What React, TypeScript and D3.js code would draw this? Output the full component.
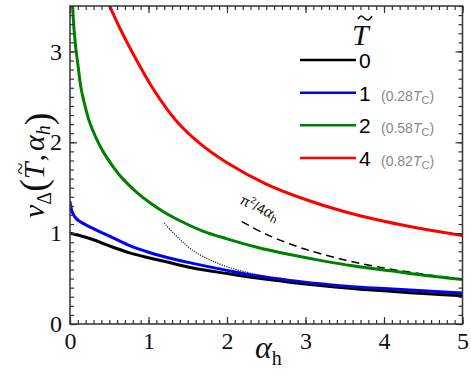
import React, { useEffect, useRef } from 'react';
import * as d3 from 'd3';

// values, [alpha_h, nu]
const curveT0: [number, number][] = [
  [0, 1.0], [0.1, 0.98], [0.29, 0.93], [0.5, 0.86], [0.77, 0.78], [1.0, 0.73], [1.2, 0.69],
  [1.55, 0.62], [2.0, 0.555], [2.38, 0.505], [2.8, 0.46], [3.22, 0.42], [3.6, 0.39],
  [4.0, 0.365], [4.5, 0.335], [5.0, 0.31],
];
const curveT1: [number, number][] = [
  [0, 1.35], [0.008, 1.3], [0.034, 1.22], [0.08, 1.16], [0.16, 1.11], [0.37, 1.02], [0.57, 0.94],
  [0.77, 0.86], [1.0, 0.79], [1.2, 0.74], [1.55, 0.67], [2.0, 0.59], [2.38, 0.53],
  [2.8, 0.48], [3.22, 0.44], [3.6, 0.41], [4.0, 0.39], [4.5, 0.365], [5.0, 0.34],
];
const curveT2: [number, number][] = [
  [0.02, 3.83], [0.034, 3.49], [0.05, 3.26], [0.076, 3.02], [0.1, 2.86], [0.14, 2.6], [0.2, 2.37],
  [0.25, 2.22], [0.33, 2.05], [0.42, 1.9], [0.55, 1.73], [0.67, 1.6], [0.85, 1.45], [1.01, 1.34],
  [1.2, 1.23], [1.44, 1.12], [1.7, 1.02], [1.99, 0.94], [2.38, 0.845], [2.8, 0.765], [3.22, 0.695],
  [3.6, 0.64], [4.08, 0.585], [4.5, 0.537], [5.0, 0.49],
];
const curveT4: [number, number][] = [
  [0.42, 3.66], [0.5, 3.51], [0.65, 3.23], [0.8, 2.98], [1.05, 2.6], [1.35, 2.24], [1.65, 1.99],
  [1.99, 1.78], [2.5, 1.54], [3.0, 1.37], [3.5, 1.235], [4.0, 1.13], [4.5, 1.045], [5.0, 0.975],
];
// dashed asymptote pi^2/4alpha_h and the dotted large-alpha curve
const asymptote: [number, number][] = [
  [2.19, 1.127], [2.5, 0.987], [3.0, 0.822], [3.5, 0.705], [4.0, 0.617], [4.5, 0.548], [4.84, 0.51],
];
const dotted: [number, number][] = [
  [1.2, 1.11], [1.4, 0.93], [1.6, 0.79], [1.8, 0.7], [2.0, 0.63], [2.25, 0.57], [2.5, 0.52],
  [2.75, 0.485], [3.0, 0.455], [3.5, 0.41], [4.0, 0.377], [4.5, 0.348], [5.0, 0.323],
];

const tValues = ['0', '1', '2', '4'];
const tcValues = ['', '0.28', '0.58', '0.82'];
const colors = ['#000000', '#0000ff', '#008000', '#ff0000'];
const curves = [curveT0, curveT1, curveT2, curveT4];

const W = 471;
const H = 373;
const serif = 'Liberation Serif';
const sans = 'Liberation Sans';

export default function App() {
  const svgRef = useRef<SVGSVGElement | null>(null);

  useEffect(() => {
    if (!svgRef.current) return;
    const svg = d3.select(svgRef.current);
    svg.selectAll('*').remove();

    const left = 70, right = 462.5, top = 6, bottom = 324;
    const x = d3.scaleLinear().domain([0, 5]).range([left, right]);
    const y = d3.scaleLinear().domain([0, 3.5]).range([bottom, top]);

    svg.append('defs').append('clipPath').attr('id', 'plot')
      .append('rect').attr('x', left).attr('y', top)
      .attr('width', right - left).attr('height', bottom - top);

    const line = d3.line<[number, number]>()
      .x(d => x(d[0])).y(d => y(d[1]))
      .curve(d3.curveCatmullRom.alpha(0.5));

    const g = svg.append('g').attr('clip-path', 'url(#plot)');

    g.append('path').datum(asymptote)
      .attr('d', line).attr('fill', 'none').attr('stroke', '#000')
      .attr('stroke-width', 1.5).attr('stroke-dasharray', '8,5');

    curves.forEach((c, i) => {
      g.append('path').datum(c)
        .attr('d', line).attr('fill', 'none')
        .attr('stroke', colors[i]).attr('stroke-width', 3);
    });

    g.append('path').datum(dotted)
      .attr('d', line).attr('fill', 'none').attr('stroke', '#222')
      .attr('stroke-width', 1.2).attr('stroke-dasharray', '1.2,1.2');

    // axes: ticks point inward on all four sides
    const minorX = d3.range(0, 5.001, 0.1);
    const minorY = d3.range(0, 3.501, 0.1);
    const majorX = d3.range(0, 6, 1);
    const majorY = d3.range(0, 4, 1);

    const drawAxis = (axis: any, transform: string, labels: boolean) => {
      const a = svg.append('g').attr('transform', transform).call(axis);
      a.attr('font-family', null).attr('font-size', null);
      a.select('.domain').remove();
      a.selectAll('line').attr('stroke', '#333').attr('stroke-width', 1.2);
      a.selectAll('text')
        .style('font-family', serif).style('font-size', '24px').attr('fill', '#111')
        .style('display', labels ? null : 'none');
    };

    drawAxis(d3.axisBottom(x).tickValues(minorX).tickSize(-4).tickFormat(() => ''), `translate(0,${bottom})`, false);
    drawAxis(d3.axisBottom(x).tickValues(majorX).tickSize(-7).tickPadding(8).tickFormat(d3.format('d')), `translate(0,${bottom})`, true);
    drawAxis(d3.axisTop(x).tickValues(minorX).tickSize(-4).tickFormat(() => ''), `translate(0,${top})`, false);
    drawAxis(d3.axisTop(x).tickValues(majorX).tickSize(-7).tickFormat(() => ''), `translate(0,${top})`, false);
    drawAxis(d3.axisLeft(y).tickValues(minorY).tickSize(-4).tickFormat(() => ''), `translate(${left},0)`, false);
    drawAxis(d3.axisLeft(y).tickValues(majorY).tickSize(-7).tickPadding(8).tickFormat(d3.format('d')), `translate(${left},0)`, true);
    drawAxis(d3.axisRight(y).tickValues(minorY).tickSize(-4).tickFormat(() => ''), `translate(${right},0)`, false);
    drawAxis(d3.axisRight(y).tickValues(majorY).tickSize(-7).tickFormat(() => ''), `translate(${right},0)`, false);

    svg.append('rect')
      .attr('x', left).attr('y', top).attr('width', right - left).attr('height', bottom - top)
      .attr('fill', 'none').attr('stroke', '#333').attr('stroke-width', 1.5);

    // x label
    const xl = svg.append('text').attr('x', 255).attr('y', 358)
      .style('font-family', serif).style('font-size', '32px').attr('fill', '#111');
    xl.append('tspan').style('font-style', 'italic').text('α');
    xl.append('tspan').style('font-size', '20px').attr('dy', 7).text('h');

    // y label, tilde placed over the T with a shifted tspan
    const yl = svg.append('text')
      .attr('transform', 'translate(44,218) rotate(-90)')
      .style('font-family', serif).style('font-size', '30px').attr('fill', '#111');
    yl.append('tspan').style('font-style', 'italic').text('ν');
    yl.append('tspan').style('font-size', '20px').attr('dy', 7).text('Δ');
    yl.append('tspan').style('font-size', '38px').attr('dy', -5).text('(');
    yl.append('tspan').style('font-style', 'italic').attr('dy', -2).text('T');
    yl.append('tspan').style('font-size', '22px').attr('dx', -12).attr('dy', -17).text('~');
    yl.append('tspan').attr('dx', 1).attr('dy', 17).text(',');
    yl.append('tspan').style('font-style', 'italic').attr('dx', 3).text('α');
    yl.append('tspan').style('font-style', 'italic').style('font-size', '20px').attr('dy', 6).text('h');
    yl.append('tspan').style('font-size', '38px').attr('dy', 1).text(')');

    // formula label along the dashed line
    const fl = svg.append('text')
      .attr('transform', `translate(${x(2.15)},${y(1.33)}) rotate(26)`)
      .style('font-family', sans).style('font-size', '14px').attr('fill', '#111');
    fl.append('tspan').text('π');
    fl.append('tspan').style('font-size', '9px').attr('dy', -6).text('2');
    fl.append('tspan').attr('dy', 6).text('/4');
    fl.append('tspan').style('font-family', serif).style('font-style', 'italic').style('font-size', '17px').text('α');
    fl.append('tspan').style('font-size', '11px').attr('dy', 3).text('h');

    // legend title: T with a drawn tilde
    svg.append('text').attr('x', 352).attr('y', 45)
      .style('font-family', serif).style('font-style', 'italic').style('font-size', '30px')
      .attr('fill', '#111').text('T');
    const tilde = d3.line().curve(d3.curveBasis);
    svg.append('path')
      .attr('d', tilde([[358, 19], [361, 14.5], [365, 19], [369, 21], [372, 16]]))
      .attr('fill', 'none').attr('stroke', '#111').attr('stroke-width', 1.6);

    const legendY = d3.scaleLinear().domain([0, 3]).range([60, 158]);
    tValues.forEach((t, i) => {
      const ly = legendY(i);
      svg.append('line').attr('x1', 300).attr('x2', 356).attr('y1', ly).attr('y2', ly)
        .attr('stroke', colors[i]).attr('stroke-width', 2.5);
      svg.append('text').attr('x', 359).attr('y', ly + 8)
        .style('font-family', sans).style('font-size', '21px').attr('fill', '#000').text(t);
      if (tcValues[i]) {
        const tt = svg.append('text').attr('x', 381).attr('y', ly + 8)
          .style('font-family', sans).style('font-size', '14px').attr('fill', '#888');
        tt.append('tspan').text(`(${tcValues[i]}`);
        tt.append('tspan').style('font-style', 'italic').text('T');
        tt.append('tspan').style('font-size', '11px').attr('dy', 3).text('C');
        tt.append('tspan').attr('dy', -3).text(')');
      }
    });
  }, []);

  return (
    <svg
      ref={svgRef}
      width={W}
      height={H}
      style={{ position: 'absolute', left: 0, top: 0, background: '#fff' }}
    />
  );
}
